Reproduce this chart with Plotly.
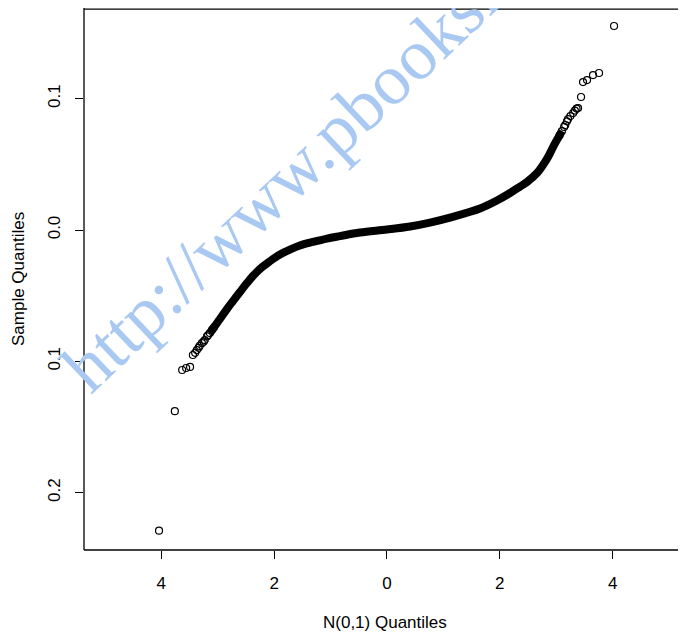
import plotly.graph_objects as go

# Dense body of the Q-Q curve (theoretical quantile, sample quantile)
body_x = [-3.14, -3.05, -2.961, -2.837, -2.730, -2.606, -2.482, -2.376, -2.252, -2.128,
          -2.021, -1.897, -1.720, -1.543, -1.312, -1.064, -0.833, -0.479, 0.0,
          0.408, 0.762, 1.117, 1.649, 1.950, 2.181, 2.358, 2.482, 2.660, 2.766,
          2.855, 2.943, 3.032, 3.103]
body_y = [-0.0785, -0.0731, -0.0678, -0.0602, -0.0541, -0.0472, -0.0404, -0.0350, -0.0297, -0.0255,
          -0.0221, -0.0186, -0.0149, -0.0118, -0.0091, -0.0065, -0.0046, -0.0019, 0.0004,
          0.0027, 0.0057, 0.0095, 0.0164, 0.0225, 0.0282, 0.0331, 0.0366, 0.0434, 0.0495,
          0.0556, 0.0632, 0.0701, 0.0754]

# Sparse tail points drawn as open circles
tail_x = [-4.04, -3.76, -3.63, -3.56, -3.49, -3.44, -3.40, -3.37, -3.34, -3.32, -3.28,
          -3.25, -3.23, -3.19, -3.17, -3.14, -3.10, -3.07,
          3.06, 3.10, 3.14, 3.16, 3.19, 3.21, 3.25, 3.30, 3.33, 3.36, 3.387, 3.44,
          3.475, 3.546, 3.652, 3.759, 4.025]
tail_y = [-0.229, -0.138, -0.1066, -0.1051, -0.1043, -0.0952, -0.0935, -0.0914, -0.0897, -0.0883, -0.0862,
          -0.0850, -0.0838, -0.0810, -0.0800, -0.0785, -0.0760, -0.0745,
          0.0722, 0.0754, 0.0785, 0.0800, 0.0828, 0.0845, 0.0868, 0.0891, 0.0910, 0.0925, 0.0929, 0.1013,
          0.1127, 0.1142, 0.1180, 0.1196, 0.1554]

x_tick_vals = [-4, -2, 0, 2, 4]
x_tick_text = ["4", "2", "0", "2", "4"]
y_tick_vals = [-0.2, -0.1, 0.0, 0.1]
y_tick_text = ["0.2", "0.1", "0.0", "0.1"]

FONT = "Liberation Sans, Arial, sans-serif"
FS = 17

fig = go.Figure()
fig.add_trace(go.Scatter(x=body_x, y=body_y, mode="lines",
                         line=dict(color="black", width=8, shape="spline"),
                         hoverinfo="skip", showlegend=False))
fig.add_trace(go.Scatter(x=tail_x, y=tail_y, mode="markers",
                         marker=dict(symbol="circle-open", size=7, color="black",
                                     line=dict(width=1.2, color="black")),
                         showlegend=False))

# page has an 8px body margin, so the figure is sized to the remaining view
fig.update_layout(
    width=678, height=627,
    margin=dict(l=76, r=0, t=0, b=85),
    paper_bgcolor="white", plot_bgcolor="white",
    font=dict(family=FONT, size=FS, color="black"),
    xaxis=dict(range=[-5.37, 5.30], tickvals=x_tick_vals, ticktext=x_tick_text,
               showgrid=False, zeroline=False, showline=False,
               ticks="outside", ticklen=8, tickwidth=1, tickcolor="black",
               ticklabelstandoff=10, tickfont=dict(size=FS)),
    yaxis=dict(range=[-0.2437, 0.1691], tickvals=y_tick_vals, ticktext=y_tick_text,
               showgrid=False, zeroline=False, showline=False,
               ticks="outside", ticklen=8, tickwidth=1, tickcolor="black",
               tickangle=-90, ticklabelstandoff=8, tickfont=dict(size=FS)),
    shapes=[
        dict(type="line", xref="paper", yref="paper", x0=0, x1=0, y0=0, y1=1,
             line=dict(color="black", width=1.3)),
        dict(type="line", xref="paper", yref="paper", x0=0, x1=1.02, y0=0, y1=0,
             line=dict(color="black", width=1.3)),
        dict(type="line", xref="paper", yref="paper", x0=0, x1=1.02, y0=0.998, y1=0.998,
             line=dict(color="black", width=1.3)),
    ],
    annotations=[
        dict(text="N(0,1) Quantiles", xref="paper", yref="paper", x=0.5, y=0,
             xanchor="center", yanchor="middle",
             yshift=-72, showarrow=False, font=dict(size=FS)),
        dict(text="Sample Quantiles", xref="paper", yref="paper", x=0, y=0.5,
             xanchor="center", yanchor="middle",
             xshift=-66, textangle=-90, showarrow=False, font=dict(size=FS)),
        dict(text="http://www.pbooksh", xref="paper", yref="paper",
             x=(286 - 84) / 602, y=(550 - 177) / 542,
             xanchor="center", yanchor="middle",
             textangle=-43.5, showarrow=False,
             font=dict(family="Liberation Serif, Times New Roman, serif", size=72,
                       color="#a9c9f2")),
    ],
)

fig.write_html("out.html")
